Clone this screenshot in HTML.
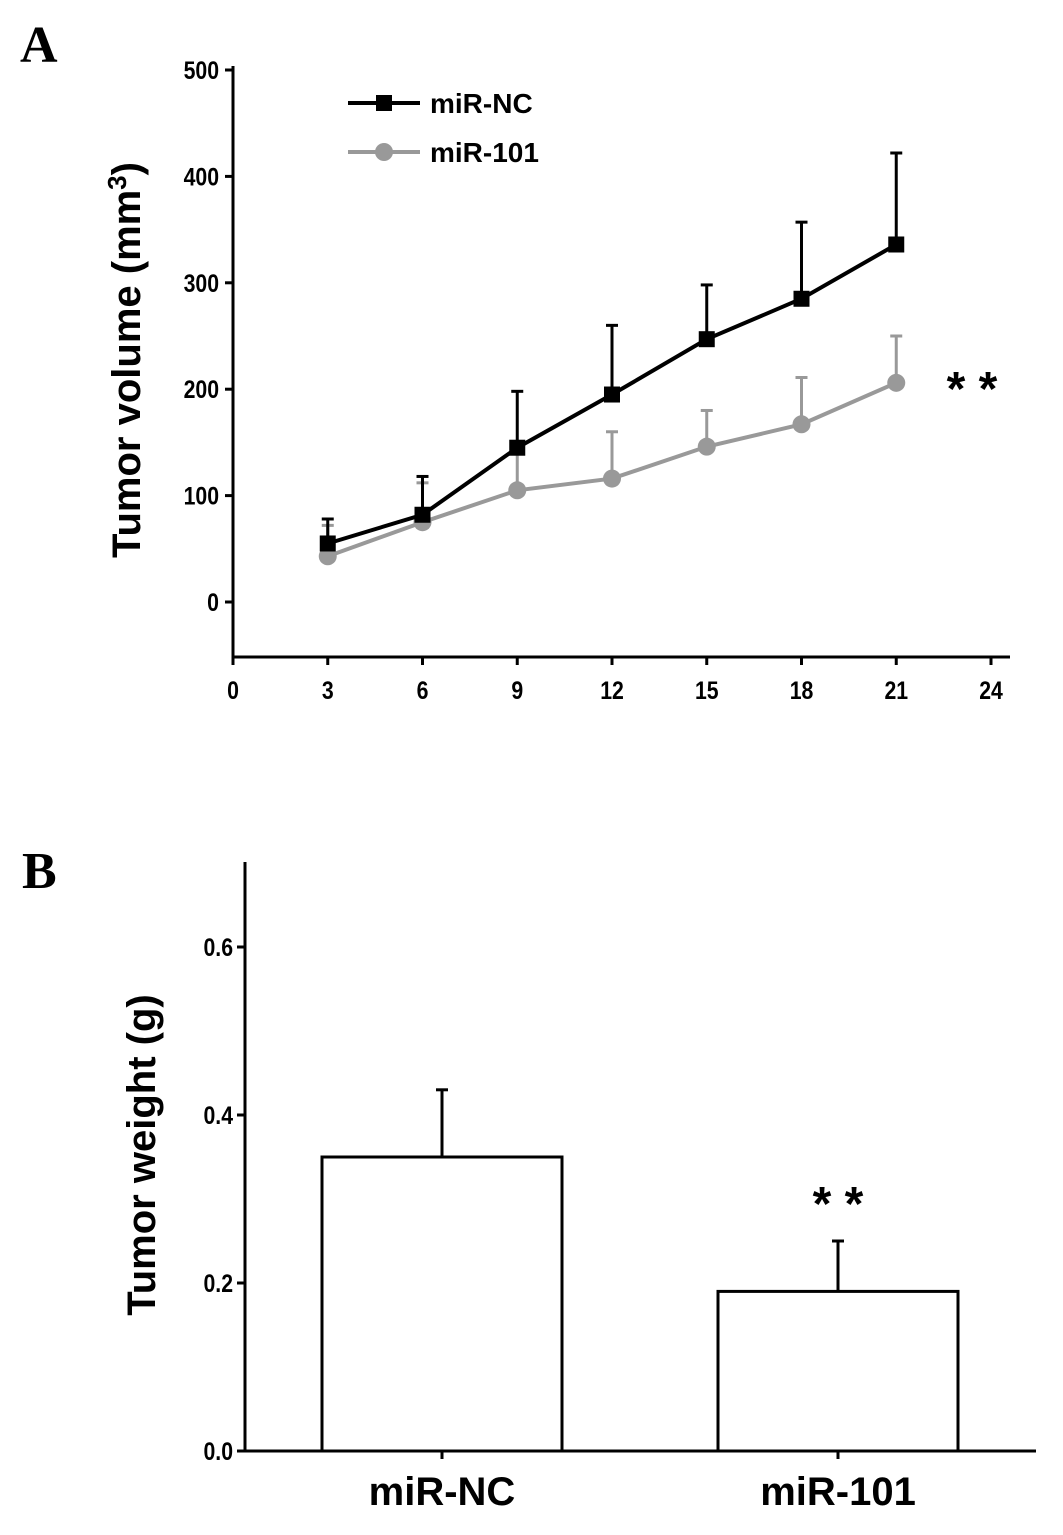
<!DOCTYPE html>
<html><head><meta charset="utf-8"><style>
html,body{margin:0;padding:0;background:#fff;}
svg{display:block;font-family:"Liberation Sans",Arial,sans-serif;font-weight:bold;}
</style></head><body>
<svg id="chart" width="1063" height="1535" viewBox="0 0 1063 1535"></svg>
<script>
const days=[3,6,9,12,15,18,21];
const ncVals=[55,82,145,195,247,285,336];
const ncErr=[23,36,53,65,51,72,86];
const m101Vals=[43,75,105,116,146,167,206];
const m101Err=[29,37,35,44,34,44,44];
const xTicksA=[0,3,6,9,12,15,18,21,24];
const yTicksA=[0,100,200,300,400,500];
const barCats=["miR-NC","miR-101"];
const barVals=[0.35,0.19];
const barErr=[0.08,0.06];
const yTicksB=[0.0,0.2,0.4,0.6];

const svg=document.getElementById('chart');
const NS="http://www.w3.org/2000/svg";
function mk(tag,attrs,parent){const e=document.createElementNS(NS,tag);for(const k in attrs)e.setAttribute(k,attrs[k]);(parent||svg).appendChild(e);return e;}
function txt(s,attrs,parent){const e=mk('text',attrs,parent);e.textContent=s;return e;}
function tick(s,x,y,anchor,parent){
 const g=mk('g',{transform:'translate('+x+','+y+') scale(0.85,1)'},parent);
 return txt(s,{x:0,y:0,'font-size':25,'text-anchor':anchor},g);
}

// Panel A
const xA=d=>233+d*(991-233)/24;
const yA=v=>602-v*(602-70)/500;
const gA=mk('g',{});


const lblA=txt('A',{x:20,y:62,'font-size':52,'font-family':'Liberation Serif,serif','font-weight':'bold'},gA);


const yaxA=mk('line',{x1:233,y1:66,x2:233,y2:657,stroke:'#000','stroke-width':3},gA);


const xaxA=mk('line',{x1:232,y1:657,x2:1010,y2:657,stroke:'#000','stroke-width':3},gA);


yTicksA.forEach(v=>{
 const t=mk('line',{x1:225,y1:yA(v),x2:233,y2:yA(v),stroke:'#000','stroke-width':3},gA);
 
 
 const l=tick(String(v),219,yA(v)+9,'end',gA);
 
 
});
xTicksA.forEach(d=>{
 const t=mk('line',{x1:xA(d),y1:657,x2:xA(d),y2:665,stroke:'#000','stroke-width':3},gA);
 
 
 const l=tick(String(d),xA(d),699,'middle',gA);
 
 
});
const ytA=txt('',{transform:'translate(140,360) rotate(-90)','font-size':40,'text-anchor':'middle'},gA);
ytA.innerHTML='Tumor volume (mm<tspan dy="-14" font-size="26">3</tspan><tspan dy="14">)</tspan>';



function series(vals,errs,color,shape,name){
 const g=mk('g',{},gA);
 
 
 vals.forEach((v,i)=>{
  const x=xA(days[i]);
  mk('line',{x1:x,y1:yA(v),x2:x,y2:yA(v+errs[i]),stroke:color,'stroke-width':3},g);
  mk('line',{x1:x-6,y1:yA(v+errs[i]),x2:x+6,y2:yA(v+errs[i]),stroke:color,'stroke-width':3},g);
 });
 const p=mk('polyline',{points:vals.map((v,i)=>xA(days[i])+','+yA(v)).join(' '),fill:'none',stroke:color,'stroke-width':4},g);
 
 
 vals.forEach((v,i)=>{
  const x=xA(days[i]),y=yA(v);
  const m=shape==='sq'?mk('rect',{x:x-8,y:y-8,width:16,height:16,fill:color},g):mk('circle',{cx:x,cy:y,r:9,fill:color},g);
  
  
 });
}
series(m101Vals,m101Err,'#999','c','series-mir-101');
series(ncVals,ncErr,'#000','sq','series-mir-nc');
const sigA=txt('* *',{x:972,y:405,'font-size':48,'text-anchor':'middle'},gA);


// legend
const lg1=mk('g',{},gA);


mk('line',{x1:348,y1:103,x2:420,y2:103,stroke:'#000','stroke-width':4},lg1);
mk('rect',{x:376,y:95,width:16,height:16,fill:'#000'},lg1);
txt('miR-NC',{x:430,y:113,'font-size':28},lg1);
const lg2=mk('g',{},gA);


mk('line',{x1:348,y1:152,x2:420,y2:152,stroke:'#999','stroke-width':4},lg2);
mk('circle',{cx:384,cy:152,r:9,fill:'#999'},lg2);
txt('miR-101',{x:430,y:162,'font-size':28},lg2);

// Panel B
const yB=v=>1451-v*840;
const gB=mk('g',{});


const lblB=txt('B',{x:22,y:888,'font-size':52,'font-family':'Liberation Serif,serif','font-weight':'bold'},gB);


const yaxB=mk('line',{x1:245,y1:862,x2:245,y2:1452,stroke:'#000','stroke-width':3},gB);


const xaxB=mk('line',{x1:244,y1:1451,x2:1036,y2:1451,stroke:'#000','stroke-width':3},gB);


yTicksB.forEach(v=>{
 const t=mk('line',{x1:237,y1:yB(v),x2:245,y2:yB(v),stroke:'#000','stroke-width':3},gB);
 
 
 const l=tick(v.toFixed(1),233,yB(v)+9,'end',gB);
 
 
});
const ytB=txt('Tumor weight (g)',{transform:'translate(155,1155) rotate(-90)','font-size':40,'text-anchor':'middle'},gB);


const barX=[322,718],barW=240;
barCats.forEach((c,i)=>{
 const x=barX[i];
 const b=mk('rect',{x:x,y:yB(barVals[i]),width:barW,height:1451-yB(barVals[i]),fill:'#fff',stroke:'#000','stroke-width':3},gB);
 
 
 const cx=x+barW/2, top=yB(barVals[i]+barErr[i]);
 const e=mk('g',{},gB);
 
 
 mk('line',{x1:cx,y1:yB(barVals[i]),x2:cx,y2:top,stroke:'#000','stroke-width':3},e);
 mk('line',{x1:cx-6,y1:top,x2:cx+6,y2:top,stroke:'#000','stroke-width':3},e);
 const tk=mk('line',{x1:cx,y1:1451,x2:cx,y2:1459,stroke:'#000','stroke-width':3},gB);
 
 
 const l=txt(c,{x:cx,y:1505,'font-size':40,'text-anchor':'middle'},gB);
 
 
});
const sigB=txt('* *',{x:838,y:1220,'font-size':48,'text-anchor':'middle'},gB);


</script>
</body></html>
